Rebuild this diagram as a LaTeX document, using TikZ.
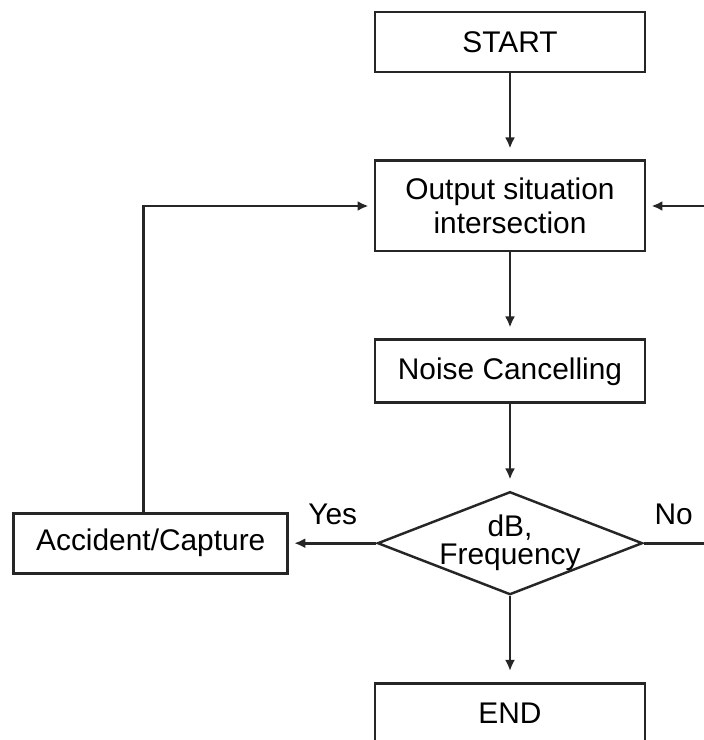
\documentclass[tikz,border=0pt]{standalone}
\usepackage{fontspec}
\setmainfont{Liberation Sans}
\usetikzlibrary{positioning, arrows.meta, shapes.geometric, calc}
\tikzset{
    block/.style={draw=black!85, line width=1.7pt, minimum width=5.4cm, align=center,
        font=\fontsize{17}{19}\selectfont},
    decision/.style={diamond, draw=black!85, line width=1.4pt, minimum width=5.3cm,
        minimum height=2.06cm, inner sep=0pt},
    flow/.style={-{Latex[length=0.22cm, width=0.2cm]}, draw=black!85, line width=1.7pt,
        shorten >=0.1cm},
    down/.style={flow, shorten >=0.22cm},
    answer/.style={font=\fontsize{17}{19}\selectfont},
}
\begin{document}
\begin{tikzpicture}
    \tikzset{node distance=1.72cm}
    \useasboundingbox (0,0) rectangle (14.08,-14.8);

    \node[block, minimum height=1.2cm] (s0) at (10.2,-0.84) {START};
    \node[block, minimum height=1.8cm, below=of s0] (s1) {Output situation\\intersection};
    \node[block, minimum height=1.26cm, below=of s1] (s2) {Noise Cancelling};
    \node[decision, below=of s2,
          label={[align=center, font=\fontsize{17}{16}\selectfont]center:dB,\\Frequency}] (d0) {};
    \node[block, minimum height=1.2cm, below=of d0] (e0) {END};
    \node[block, minimum width=5.48cm, minimum height=1.2cm, left=1.74cm of d0] (a0) {Accident/Capture};

    \coordinate (r0) at ($(d0.east)+(1.5,0)$);

    \draw[down] (s0) -- (s1);
    \draw[down] (s1) -- (s2);
    \draw[down] (s2) -- (d0);
    \draw[down] (d0) -- (e0);

    \draw[flow] (d0) -- node[answer, above=0.22cm] {Yes} (a0);
    \draw[flow] (d0.east) -- node[answer, above=0.22cm, pos=0.4] {No} (r0) |- (s1.east);
    \draw[flow] ([xshift=-0.14cm]a0.north) |- (s1.west);
\end{tikzpicture}
\end{document}
